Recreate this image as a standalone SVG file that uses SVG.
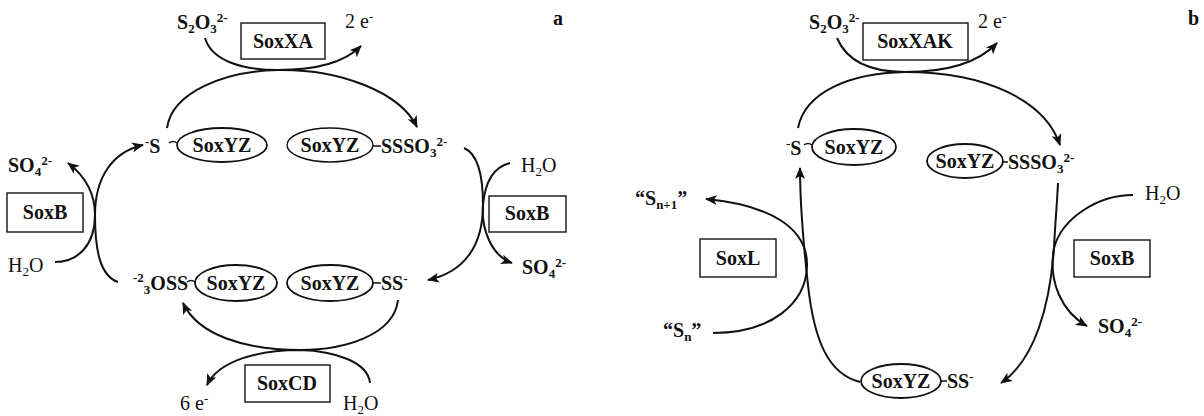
<svg xmlns="http://www.w3.org/2000/svg" width="1204" height="416" viewBox="0 0 1204 416">
<style>
text{font-family:"Liberation Serif","Times New Roman",serif;font-size:20px;fill:#111}
.b{font-weight:bold}
.s{font-size:13px}
.c{text-anchor:middle}
.box{fill:#fff;stroke:#222;stroke-width:1.5}
.ell{fill:#fff;stroke:#111;stroke-width:1.8}
.bond{stroke:#111;stroke-width:1.5;fill:none}
.ln{fill:none;stroke:#111;stroke-width:2}
.arr{marker-end:url(#ah)}
</style>
<defs>
<marker id="ah" viewBox="0 0 12 10" refX="11" refY="5" markerWidth="12" markerHeight="10" markerUnits="userSpaceOnUse" orient="auto">
<path d="M0,0 L12,5 L0,10 L3,5 z" fill="#111"/>
</marker>
</defs>
<rect width="1204" height="416" fill="#fff"/>

<g id="connectors">
<!-- panel a -->
<path class="ln arr" d="M205,38 C212,62 245,70 278,70 C318,70 345,62 361,46"/>
<path class="ln arr" d="M167,128 C172,92 225,71 278,70 C340,69 400,92 417,127"/>
<path class="ln arr" d="M464,148 C478,154 483,175 483,205 C483,245 465,272 428,280"/>
<path class="ln arr" d="M510,163 C494,167 485,182 483,205 C481,230 492,256 512,263"/>
<path class="ln arr" d="M398,300 C394,335 345,350 300,350 C245,350 198,335 183,303"/>
<path class="ln arr" d="M370,383 C368,362 335,351 300,350 C255,350 218,362 207,385"/>
<path class="ln arr" d="M55,262 C78,262 95,245 95,215 C95,178 112,152 143,145"/>
<path class="ln arr" d="M118,282 C100,276 95,250 95,215 C95,192 85,176 68,163"/>
<!-- panel b -->
<path class="ln arr" d="M837,38 C848,64 875,72 905,72 C945,72 978,63 997,43"/>
<path class="ln arr" d="M798,128 C805,92 850,73 905,72 C985,72 1045,100 1060,145"/>
<path class="ln arr" d="M1058,183 C1057,205 1055,225 1054,248 C1050,305 1035,360 1001,383"/>
<path class="ln arr" d="M1133,195 C1098,195 1062,218 1054,248 C1048,282 1062,312 1087,326"/>
<path class="ln arr" d="M860,382 C828,374 814,340 808,285 C803,240 800,205 800,168"/>
<path class="ln arr" d="M713,333 C772,333 806,303 807,266 C808,228 770,205 706,199"/>
</g>

<!-- panel a nodes -->
<g id="a-label"><text class="b" x="553" y="25">a</text></g>
<g id="a-s2o3"><text class="b" x="177" y="29">S<tspan class="s" dy="4">2</tspan><tspan dy="-4">O</tspan><tspan class="s" dy="4">3</tspan><tspan class="s" dy="-11">2-</tspan></text></g>
<g id="a-soxxa"><rect class="box" x="241" y="23" width="84" height="36"/><text class="b c" x="283" y="48">SoxXA</text></g>
<g id="a-2e"><text x="345" y="28">2 e<tspan class="s" dy="-7">-</tspan></text></g>
<g id="a-s-soxyz">
<text class="b" x="145" y="153"><tspan class="s" dy="-7">-</tspan><tspan dy="7">S</tspan></text>
<path class="bond" d="M169,143 Q173,140 177,143"/>
<ellipse class="ell" cx="222" cy="145" rx="45" ry="17"/>
<text class="b c" x="222" y="152">SoxYZ</text>
</g>
<g id="a-soxyz-sssso3">
<ellipse class="ell" cx="330" cy="145" rx="43" ry="17" style="stroke-width:1.4"/>
<text class="b c" x="330" y="152">SoxYZ</text>
<path class="bond" d="M373,146 L381,146"/>
<text class="b" x="381" y="153">SSSO<tspan class="s" dy="4">3</tspan><tspan class="s" dy="-11">2-</tspan></text>
</g>
<g id="a-h2o-r"><text x="521" y="172">H<tspan class="s" dy="4">2</tspan><tspan dy="-4">O</tspan></text></g>
<g id="a-soxb-r"><rect class="box" x="489" y="196" width="77" height="36"/><text class="b c" x="527" y="220">SoxB</text></g>
<g id="a-so4-r"><text class="b" x="522" y="274">SO<tspan class="s" dy="4">4</tspan><tspan class="s" dy="-11">2-</tspan></text></g>
<g id="a-so4-l"><text class="b" x="8" y="172">SO<tspan class="s" dy="4">4</tspan><tspan class="s" dy="-11">2-</tspan></text></g>
<g id="a-soxb-l"><rect class="box" x="7" y="193" width="76" height="39"/><text class="b c" x="45" y="219">SoxB</text></g>
<g id="a-h2o-l"><text x="8" y="272">H<tspan class="s" dy="4">2</tspan><tspan dy="-4">O</tspan></text></g>
<g id="a-o3ss-soxyz">
<text class="b" x="133" y="290"><tspan class="s" dy="-8">-2</tspan><tspan class="s" dy="12">3</tspan><tspan dy="-4">OSS</tspan></text>
<path class="bond" d="M187,282 Q191,279 195,282"/>
<ellipse class="ell" cx="236" cy="283" rx="41" ry="18"/>
<text class="b c" x="236" y="290">SoxYZ</text>
</g>
<g id="a-soxyz-ss">
<ellipse class="ell" cx="330" cy="283" rx="43" ry="18"/>
<text class="b c" x="330" y="290">SoxYZ</text>
<path class="bond" d="M373,283 L381,283"/>
<text class="b" x="381" y="290">SS<tspan class="s" dy="-7">-</tspan></text>
</g>
<g id="a-soxcd"><rect class="box" x="245" y="365" width="85" height="37"/><text class="b c" x="287" y="390">SoxCD</text></g>
<g id="a-6e"><text x="180" y="410">6 e<tspan class="s" dy="-7">-</tspan></text></g>
<g id="a-h2o-b"><text x="343" y="410">H<tspan class="s" dy="4">2</tspan><tspan dy="-4">O</tspan></text></g>

<!-- panel b nodes -->
<g id="b-label"><text class="b" x="1188" y="25">b</text></g>
<g id="b-s2o3"><text class="b" x="809" y="29">S<tspan class="s" dy="4">2</tspan><tspan dy="-4">O</tspan><tspan class="s" dy="4">3</tspan><tspan class="s" dy="-11">2-</tspan></text></g>
<g id="b-soxxak"><rect class="box" x="863" y="23" width="105" height="37"/><text class="b c" x="915" y="48">SoxXAK</text></g>
<g id="b-2e"><text x="978" y="28">2 e<tspan class="s" dy="-7">-</tspan></text></g>
<g id="b-s-soxyz">
<text class="b" x="786" y="155"><tspan class="s" dy="-7">-</tspan><tspan dy="7">S</tspan></text>
<path class="bond" d="M804,145 Q808,142 812,145"/>
<ellipse class="ell" cx="854" cy="147" rx="42" ry="18"/>
<text class="b c" x="854" y="154">SoxYZ</text>
</g>
<g id="b-soxyz-sssso3">
<ellipse class="ell" cx="965" cy="161" rx="38" ry="17"/>
<text class="b c" x="965" y="168">SoxYZ</text>
<path class="bond" d="M1003,162 L1008,162"/>
<text class="b" x="1008" y="169">SSSO<tspan class="s" dy="4">3</tspan><tspan class="s" dy="-11">2-</tspan></text>
</g>
<g id="b-h2o"><text x="1145" y="200">H<tspan class="s" dy="4">2</tspan><tspan dy="-4">O</tspan></text></g>
<g id="b-soxb"><rect class="box" x="1074" y="240" width="76" height="37"/><text class="b c" x="1112" y="265">SoxB</text></g>
<g id="b-so4"><text class="b" x="1098" y="333">SO<tspan class="s" dy="4">4</tspan><tspan class="s" dy="-11">2-</tspan></text></g>
<g id="b-soxyz-ss">
<ellipse class="ell" cx="901" cy="381" rx="40" ry="17"/>
<text class="b c" x="901" y="388">SoxYZ</text>
<path class="bond" d="M941,381 L947,381"/>
<text class="b" x="947" y="388">SS<tspan class="s" dy="-7">-</tspan></text>
</g>
<g id="b-soxl"><rect class="box" x="700" y="239" width="76" height="38"/><text class="b c" x="738" y="265">SoxL</text></g>
<g id="b-sn1"><text class="b" x="635" y="205">“S<tspan class="s" dy="4">n+1</tspan><tspan dy="-4">”</tspan></text></g>
<g id="b-sn"><text class="b" x="663" y="337">“S<tspan class="s" dy="4">n</tspan><tspan dy="-4">”</tspan></text></g>
</svg>
